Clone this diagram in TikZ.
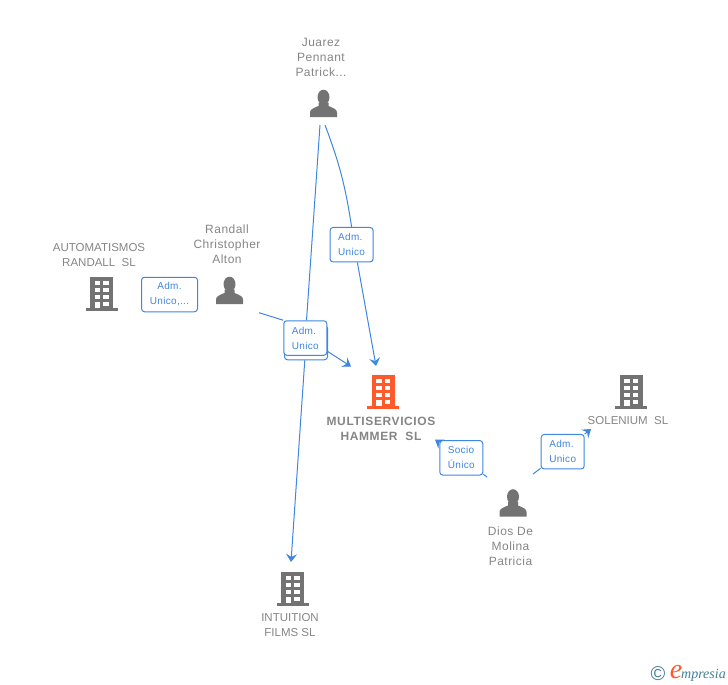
\documentclass[tikz,border=0pt]{standalone}
\usepackage{fontspec}
\setmainfont{Liberation Sans}
\newfontfamily\logofont{Liberation Serif}
\usetikzlibrary{arrows.meta}
\definecolor{linkblue}{HTML}{3F86E0}
\definecolor{icongray}{HTML}{737373}
\definecolor{textgray}{HTML}{858585}
\definecolor{mainorange}{HTML}{FF5A2B}
\definecolor{logoteal}{HTML}{3F7F96}
\tikzset{
  namelabel/.style={text=textgray,align=center,inner sep=0pt,
    font=\fontsize{12}{15}\selectfont\addfontfeature{LetterSpace=4}},
  firmlabel/.style={namelabel,font=\fontsize{11.5}{15}\selectfont},
  mainlabel/.style={namelabel,font=\fontsize{12}{15}\selectfont\bfseries\addfontfeature{LetterSpace=5}},
  rolebox/.style={draw=linkblue,fill=white,rounded corners=3pt,line width=1pt,text=linkblue,
    minimum width=43pt,minimum height=34.5pt,inner sep=0pt,align=left,
    execute at begin node={\vspace*{2pt}},
    font=\fontsize{10}{15}\selectfont\addfontfeature{LetterSpace=3}},
  link/.style={draw=linkblue,line width=1pt},
  linkhead/.style={link,-{Stealth[length=8pt,width=11pt,inset=3pt]}},
  iconspot/.style={inner sep=0pt,minimum size=28pt},
  pics/buildingicon/.style={code={
    \fill[#1] (-11.5,-17) rectangle (11.5,15);
    \fill[#1] (-16,14) rectangle (16,17);
    \foreach \y in {-13.5,-6.5,0.5} { % upper windows
      \fill[white] (-7,\y) rectangle (-1.5,\y+4.5);
      \fill[white] (1.5,\y) rectangle (7,\y+4.5);
    }
    \fill[white] (1.5,7.5) rectangle (7,12);
    \fill[white] (-7,7.5) rectangle (-1.5,14); % door
  }},
  pics/personicon/.style={code={
    \fill[icongray] (0,-6.3) ellipse (6 and 7.5);
    \fill[icongray] (-13.5,13.5) -- (-13.5,9) .. controls (-13.5,6) and (-10,4.5) .. (-5,2.5)
      -- (-5,-1) -- (5,-1) -- (5,2.5) .. controls (10,4.5) and (13.5,6) .. (13.5,9) -- (13.5,13.5) -- cycle;
  }},
}
\begin{document}
\begin{tikzpicture}[x=1pt,y=-1pt]
\useasboundingbox (0,0) rectangle (728,685);

% icons
\node[iconspot] (juarez) at (323.5,103.5) {};
\node[iconspot] (randall) at (229.5,290.5) {};
\node[iconspot] (dios) at (513,503) {};
\node[iconspot] (automatismos) at (101.5,294) {};
\node[iconspot] (multiservicios) at (383,392) {};
\node[iconspot] (solenium) at (631,392) {};
\node[iconspot] (intuition) at (292.5,589) {};
\foreach \who in {juarez,randall,dios}
\pic at (\who) {personicon};
\foreach \what in {automatismos,solenium,intuition}
\pic at (\what) {buildingicon=icongray};
\pic at (multiservicios) {buildingicon=mainorange};

% names
\node[namelabel] (juareztext) at (321,57) {Juarez\\Pennant\\Patrick...};
\node[namelabel] (randalltext) at (227,244) {Randall\\Christopher\\Alton};
\node[namelabel] (diostext) at (510.5,546) {Dios De\\Molina\\Patricia};
\node[firmlabel] (automatismostext) at (99,255.5) {AUTOMATISMOS\\RANDALL\ \ SL};
\node[mainlabel] (multiserviciostext) at (381,428.5) {MULTISERVICIOS\\HAMMER\ \ SL};
\node[firmlabel] (soleniumtext) at (628,421) {SOLENIUM\ \ SL};
\node[firmlabel] (intuitiontext) at (290,625.5) {INTUITION\\FILMS SL};

% role boxes
\node[rolebox,minimum width=56pt,align=center] (admautomatismos) at (169.5,294.5) {Adm.\\Unico,...};
\node[rolebox] (admjuarez) at (351.6,244.7) {Adm.\\Unico};
\node[rolebox] (admrandallback) at (306,342.5) {};
\node[rolebox] (admrandall) at (305.3,338) {Adm.\\Unico};
\node[rolebox] (sociodios) at (461.3,457.8) {Socio\\Único};
\node[rolebox] (admdios) at (562.7,451.7) {Adm.\\Unico};

% free ends of the links
\coordinate (juarezoutA) at (320,125);
\coordinate (juarezoutB) at (325,125);
\coordinate (randallout) at (259,312.7);
\coordinate (diosoutA) at (487,477);
\coordinate (diosoutB) at (533,474);
\coordinate (multitipA) at (376,366);
\coordinate (multitipB) at (351,366.5);
\coordinate (multitipC) at (435,439.5);
\coordinate (soleniumtip) at (591,429);
\coordinate (intuitiontip) at (291,562);

% links
\draw[link] (juarezoutA) -- (admrandall);
\draw[linkhead] (admrandallback) -- (intuitiontip);
\draw[link] (juarezoutB) to[bend left=6] (admjuarez.north);
\draw[linkhead] (admjuarez.-72) -- (multitipA);
\draw[link] (randallout) -- (admrandall.north west);
\draw[linkhead] (admrandall.-31) -- (multitipB);
\draw[link] (diosoutA) -- (sociodios);
\draw[linkhead] (sociodios) -- (multitipC);
\draw[link] (diosoutB) -- (admdios);
\draw[linkhead] (admdios) -- (soleniumtip);

% logo
\node[text=logoteal,inner sep=0pt,font=\fontsize{20}{20}\selectfont] (copyrightmark) at (658,674) {©};
\node[text=mainorange,inner sep=0pt,font=\logofont\itshape\fontsize{28}{28}\selectfont] (logoe) at (676,672) {e};
\node[text=logoteal,inner sep=0pt,anchor=west,font=\logofont\itshape\fontsize{14}{14}\selectfont] (logoname) at (681,675) {mpresia};
\end{tikzpicture}
\end{document}
